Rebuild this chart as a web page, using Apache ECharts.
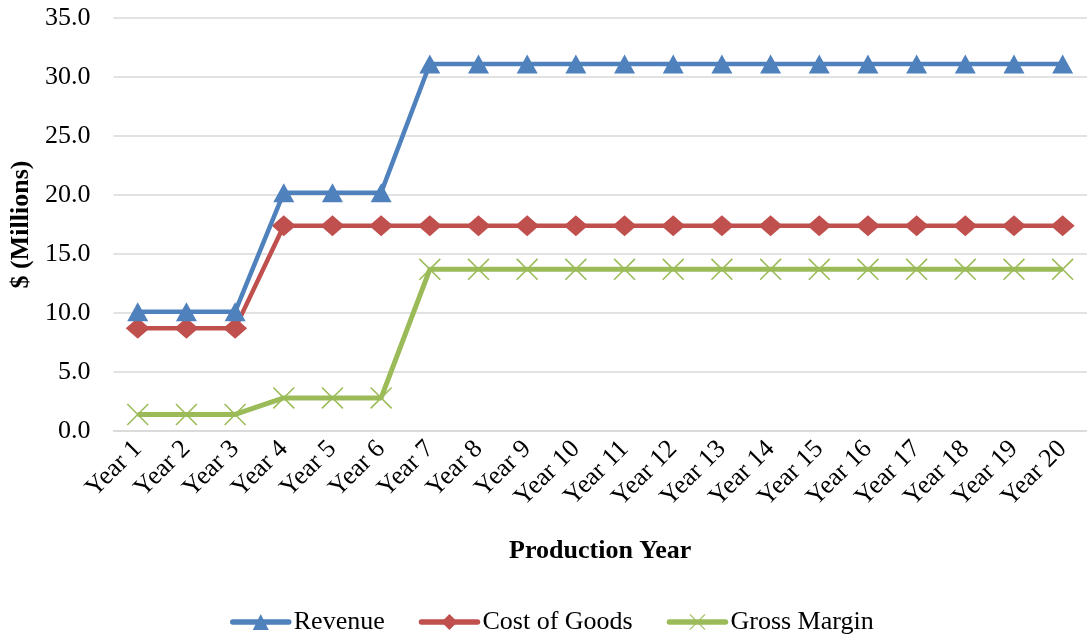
<!DOCTYPE html>
<html>
<head>
<meta charset="utf-8">
<script src="https://cdn.jsdelivr.net/npm/echarts@6/dist/echarts.min.js"></script>
<style>
  html, body { margin: 0; padding: 0; background: #fff; }
  #chart { width: 1087px; height: 637px; }
</style>
</head>
<body>
<div id="chart"></div>
<script>
const years = ['Year 1', 'Year 2', 'Year 3', 'Year 4', 'Year 5', 'Year 6', 'Year 7', 'Year 8', 'Year 9', 'Year 10',
  'Year 11', 'Year 12', 'Year 13', 'Year 14', 'Year 15', 'Year 16', 'Year 17', 'Year 18', 'Year 19', 'Year 20']
const revenue = [10.1, 10.1, 10.1, 20.2, 20.2, 20.2, 31.1, 31.1, 31.1, 31.1,
  31.1, 31.1, 31.1, 31.1, 31.1, 31.1, 31.1, 31.1, 31.1, 31.1]
const costOfGoods = [8.7, 8.7, 8.7, 17.4, 17.4, 17.4, 17.4, 17.4, 17.4, 17.4,
  17.4, 17.4, 17.4, 17.4, 17.4, 17.4, 17.4, 17.4, 17.4, 17.4]
const grossMargin = [1.4, 1.4, 1.4, 2.8, 2.8, 2.8, 13.7, 13.7, 13.7, 13.7,
  13.7, 13.7, 13.7, 13.7, 13.7, 13.7, 13.7, 13.7, 13.7, 13.7]

const font = 'Liberation Serif'
const crossPath = 'path://M0,1.2 L1.2,0 L24,22.8 L22.8,24 Z M22.8,0 L24,1.2 L1.2,24 L0,22.8 Z'

const chart = echarts.init(document.getElementById('chart'))
chart.setOption({
  animation: false,
  textStyle: { fontFamily: font, color: '#000' },
  grid: {
    left: 113,
    top: 18,
    width: 982,
    bottom: 206,
  },
  legend: {
    top: 609,
    left: 230,
    padding: 0,
    itemWidth: 56,
    itemHeight: 20,
    itemGap: 34,
    lineStyle: { width: 5.5, cap: 'round' },
    textStyle: { fontFamily: font, fontSize: 26, color: '#000' },
    data: ['Revenue', 'Cost of Goods', 'Gross Margin'],
  },
  xAxis: {
    type: 'category',
    data: years,
    boundaryGap: true,
    name: 'Production Year',
    nameLocation: 'middle',
    nameGap: 107,
    nameTextStyle: { fontFamily: font, fontSize: 26, fontWeight: 'bold', color: '#000' },
    axisLine: { lineStyle: { color: '#d9d9d9', width: 1.5 } },
    axisTick: { show: false },
    axisLabel: {
      rotate: 45,
      margin: 14,
      interval: 0,
      fontFamily: font,
      fontSize: 26,
      color: '#000',
    },
  },
  yAxis: {
    type: 'value',
    min: 0,
    max: 35,
    interval: 5,
    name: '$ (Millions)',
    nameLocation: 'middle',
    nameGap: 77,
    nameTextStyle: { fontFamily: font, fontSize: 26, fontWeight: 'bold', color: '#000' },
    axisLine: { show: false },
    axisTick: { show: false },
    axisLabel: {
      margin: 23,
      fontFamily: font,
      fontSize: 26,
      color: '#000',
      formatter: (v) => v.toFixed(1),
    },
    splitLine: { lineStyle: { color: '#d9d9d9', width: 1.5 } },
  },
  series: [
    {
      name: 'Revenue',
      type: 'line',
      data: revenue,
      color: '#4f81bd',
      symbol: 'triangle',
      symbolSize: [21, 19],
      lineStyle: { width: 4.5 },
      z: 3,
    },
    {
      name: 'Cost of Goods',
      type: 'line',
      data: costOfGoods,
      color: '#c0504d',
      symbol: 'diamond',
      symbolSize: [24, 21],
      lineStyle: { width: 4.5 },
      z: 2,
    },
    {
      name: 'Gross Margin',
      type: 'line',
      data: grossMargin,
      color: '#9bbb59',
      symbol: crossPath,
      symbolSize: 22,
      lineStyle: { width: 5 },
      z: 1,
    },
  ],
})
</script>
</body>
</html>
